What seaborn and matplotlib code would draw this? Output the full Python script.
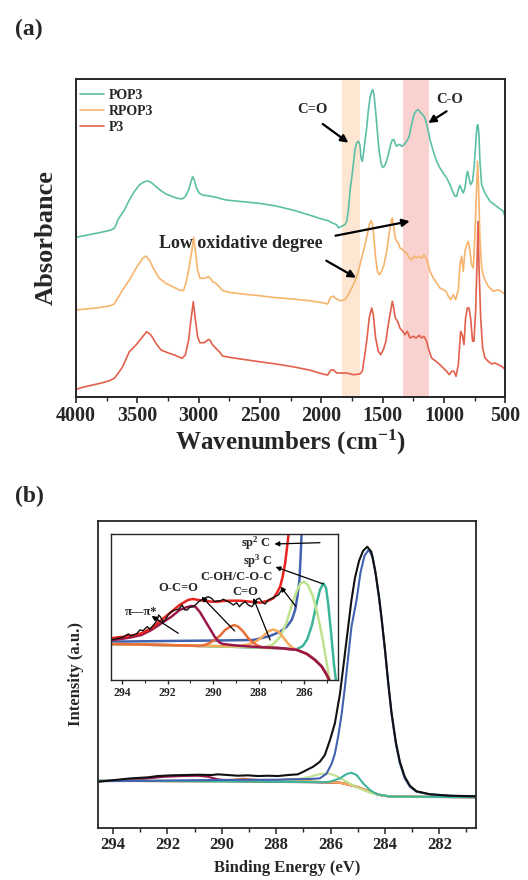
import matplotlib
matplotlib.use("Agg")
import matplotlib.pyplot as plt
import seaborn as sns
from matplotlib.ticker import MultipleLocator

sns.set_style("ticks")
plt.rcParams['font.family'] = ['Liberation Serif', 'DejaVu Serif']
plt.rcParams['font.weight'] = 'bold'
plt.rcParams['mathtext.fontset'] = 'custom'
plt.rcParams['mathtext.rm'] = 'Liberation Serif:bold'
plt.rcParams['mathtext.it'] = 'Liberation Serif:italic:bold'
plt.rcParams['mathtext.bf'] = 'Liberation Serif:bold'
plt.rcParams['axes.unicode_minus'] = False

# ---------------- (a) FTIR data ----------------
pop3_wn = [4000, 3998, 3946, 3864, 3783, 3715, 3688, 3674, 3660, 3633, 3606, 3565, 3525, 3484, 3443, 3416,
           3389, 3348, 3307, 3267, 3212, 3172, 3136, 3109, 3082, 3063, 3049, 3036, 3017, 2995, 2968, 2914,
           2859, 2778, 2642, 2506, 2370, 2235, 2099, 1990, 1936, 1930, 1876, 1860, 1835, 1808, 1794, 1781,
           1767, 1753, 1740, 1726, 1713, 1699, 1686, 1677, 1667, 1658, 1645, 1631, 1618, 1604, 1590, 1582,
           1571, 1558, 1544, 1531, 1514, 1501, 1487, 1474, 1455, 1436, 1422, 1409, 1395, 1387, 1373, 1360,
           1346, 1327, 1305, 1284, 1265, 1246, 1224, 1210, 1197, 1175, 1156, 1142, 1129, 1115, 1088, 1061,
           1034, 1007, 979, 952, 931, 911, 898, 884, 871, 857, 844, 830, 816, 808, 797, 784, 768, 754, 743,
           732, 724, 716, 708, 694, 667, 626, 572, 518, 500]
pop3_abs = [168.4, 159.4, 160.7, 162.7, 164.7, 166.7, 168.4, 171.7, 176.7, 181.7, 186.7, 196.7, 205.0, 211.7,
            215.0, 215.7, 214.4, 210.0, 206.0, 202.7, 200.0, 198.4, 197.7, 200.0, 206.7, 215.0, 220.0, 216.7,
            208.4, 203.4, 201.7, 200.7, 199.4, 196.7, 195.0, 193.4, 190.7, 186.7, 181.7, 177.4, 175.7, 174.7,
            172.0, 169.0, 170.4, 172.0, 175.4, 185.4, 205.4, 218.7, 232.0, 247.0, 253.7, 255.4, 252.0, 238.7,
            235.4, 242.0, 255.4, 268.7, 285.4, 298.7, 305.4, 307.0, 302.0, 285.4, 265.4, 247.0, 233.7, 229.4,
            230.4, 233.7, 242.0, 252.0, 257.0, 257.0, 252.0, 250.4, 252.0, 252.0, 250.4, 252.0, 255.4, 260.4,
            272.0, 282.0, 286.4, 287.0, 284.7, 282.0, 278.7, 272.0, 265.4, 257.0, 245.4, 235.4, 228.7, 223.7,
            218.7, 212.0, 205.4, 200.4, 200.4, 207.0, 211.4, 207.0, 203.7, 208.7, 222.0, 225.4, 218.7, 212.0,
            215.4, 232.0, 252.0, 270.4, 272.0, 262.0, 235.4, 212.0, 203.7, 195.4, 190.4, 185.4, 178.7]

rpop3_wn = [4000, 3998, 3946, 3837, 3728, 3688, 3660, 3620, 3565, 3511, 3457, 3430, 3402, 3362, 3321, 3267,
            3212, 3158, 3125, 3104, 3077, 3055, 3041, 3028, 3009, 2990, 2954, 2919, 2905, 2886, 2859, 2832,
            2805, 2751, 2642, 2506, 2370, 2235, 2099, 1990, 1949, 1925, 1900, 1889, 1849, 1808, 1781, 1753,
            1726, 1699, 1672, 1645, 1626, 1610, 1596, 1585, 1572, 1558, 1544, 1528, 1509, 1490, 1468, 1449,
            1433, 1422, 1411, 1398, 1387, 1373, 1360, 1346, 1327, 1305, 1284, 1265, 1246, 1224, 1202, 1183,
            1164, 1142, 1129, 1115, 1088, 1061, 1034, 1007, 985, 966, 947, 925, 906, 884, 871, 857, 844, 830,
            816, 803, 789, 776, 762, 749, 735, 727, 719, 708, 694, 675, 640, 599, 558, 518, 500]
rpop3_abs = [95.0, 86.7, 87.4, 88.7, 90.7, 92.7, 98.4, 106.7, 116.7, 128.4, 138.4, 140.7, 136.7, 126.7, 118.4,
             113.4, 110.0, 106.7, 106.0, 113.4, 130.0, 146.7, 159.4, 146.7, 126.7, 118.4, 118.4, 120.0, 118.4,
             115.0, 113.4, 110.0, 106.0, 104.4, 102.7, 101.0, 99.0, 97.7, 96.0, 94.0, 92.7, 99.5, 100.5, 98.7,
             96.0, 97.0, 102.0, 108.7, 115.4, 125.4, 138.7, 152.0, 162.0, 172.0, 176.0, 173.7, 158.7, 138.7,
             125.4, 122.0, 125.4, 132.0, 145.4, 162.0, 175.4, 178.7, 170.4, 158.7, 155.4, 153.7, 148.7, 148.0,
             145.4, 143.7, 138.7, 137.0, 140.4, 138.7, 140.4, 138.7, 142.0, 137.0, 132.0, 125.4, 118.7, 113.7,
             108.7, 107.0, 105.4, 100.4, 97.0, 102.0, 97.0, 107.0, 132.0, 140.4, 125.4, 145.4, 152.0, 155.4,
             145.4, 132.0, 128.7, 162.0, 208.7, 235.4, 208.7, 158.7, 128.7, 118.7, 110.4, 105.4, 107.0, 103.7,
             102.0]

p3_wn = [4000, 3998, 3946, 3864, 3783, 3728, 3688, 3660, 3620, 3565, 3511, 3457, 3424, 3389, 3348, 3307,
         3253, 3199, 3136, 3109, 3082, 3063, 3044, 3030, 3009, 2990, 2954, 2919, 2905, 2886, 2859, 2832, 2805,
         2751, 2642, 2506, 2370, 2235, 2099, 1990, 1949, 1922, 1903, 1876, 1835, 1794, 1740, 1686, 1667, 1650,
         1631, 1610, 1590, 1577, 1558, 1536, 1517, 1495, 1474, 1455, 1436, 1422, 1411, 1398, 1379, 1360, 1338,
         1319, 1300, 1278, 1251, 1229, 1202, 1183, 1164, 1142, 1129, 1102, 1066, 1034, 1007, 979, 958, 939,
         920, 903, 884, 865, 852, 838, 825, 811, 797, 784, 768, 757, 743, 732, 724, 716, 702, 686, 667, 640,
         613, 585, 558, 531, 500]
p3_abs = [18.4, 7.4, 9.4, 11.7, 14.0, 16.0, 18.4, 22.7, 30.0, 45.0, 51.7, 60.0, 65.0, 61.7, 53.4, 46.7, 44.0,
          41.7, 38.4, 41.7, 56.7, 76.7, 95.0, 80.0, 60.0, 54.0, 54.0, 57.4, 56.0, 51.7, 48.4, 45.0, 40.7, 39.4,
          37.4, 35.0, 32.7, 30.0, 26.7, 22.7, 21.7, 26.7, 27.0, 23.7, 23.7, 23.7, 22.0, 22.7, 25.4, 38.7, 55.4,
          78.7, 88.7, 82.0, 58.7, 45.4, 42.0, 47.0, 55.4, 72.0, 85.4, 95.4, 88.7, 78.7, 75.4, 68.7, 65.4, 62.0,
          65.4, 58.7, 60.4, 58.7, 61.4, 58.7, 60.4, 55.4, 48.7, 38.7, 35.4, 32.0, 28.7, 25.4, 22.0, 25.4, 25.4,
          20.4, 32.0, 65.4, 62.0, 52.0, 78.7, 88.7, 88.7, 78.7, 55.4, 55.4, 85.4, 132.0, 175.4, 132.0, 78.7,
          48.7, 38.7, 35.4, 32.7, 33.7, 32.0, 30.4, 27.0]

ftir_names = ["POP3", "RPOP3", "P3"]
ftir_colors = ["#5cbfa6", "#f6b46c", "#e2604c"]
band_co = (1686, 1828)
band_c_o = (1127, 1332)

# ---------------- (b) XPS main panel ----------------
m_black_be = [294.55, 293.94, 293.33, 292.71, 292.35, 291.85, 291.37, 290.87, 290.38, 290.14, 289.77, 289.40,
              289.04, 288.67, 288.30, 287.93, 287.57, 287.2, 287.0, 286.64, 286.39, 286.21, 286.02, 285.84,
              285.65, 285.53, 285.41, 285.29, 285.23, 285.1, 284.95, 284.8, 284.65, 284.5, 284.35, 284.21,
              284.12, 284.0, 283.88, 283.76, 283.6, 283.45, 283.27, 283.08, 282.84, 282.35, 281.6, 280.65]
m_black = [46, 47.7, 49.4, 50.4, 51.7, 52.4, 52.7, 53.0, 52.7, 53.4, 52.7, 52.0, 52.4, 51.7, 52.0, 51.7, 52.7,
           53.4, 56, 61, 66, 72.7, 87.7, 104.4, 134.4, 161, 187.7, 214.4, 227.7, 250, 267, 277, 281, 276, 256,
           230, 209, 179, 146, 116, 86, 66, 51, 42, 36.5, 33.5, 32, 31.5]

m_blue_be = [294.54, 292, 290, 288, 287.49, 286.76, 286.39, 286.15, 285.96, 285.84, 285.72, 285.59, 285.47,
             285.35, 285.23, 285.04, 284.9, 284.75, 284.6, 284.45, 284.33, 284.21, 284.12, 284.0, 283.88,
             283.76, 283.6, 283.45, 283.27, 283.08, 282.84, 282.35, 281.61, 280.65]
m_blue = [46.5, 47.2, 47.8, 48, 48.4, 48.7, 49.4, 54, 64, 74, 91, 114, 141, 171, 201, 228, 255, 272, 278, 271,
          252, 228, 208, 178, 144.4, 114.4, 84.4, 64.4, 49.4, 41.0, 36.0, 33.4, 32.0, 31.2]

m_base_be = [294.54, 292, 290, 288, 286.5, 285.65, 285.3, 285.04, 284.8, 284.55, 284.18, 283.82, 283.0, 280.65]
m_base = [47, 46.7, 46.5, 46, 45.7, 45, 43.5, 41, 38.5, 36, 32.7, 31.2, 30.8, 30.5]

m_green_be = [294.54, 290, 288, 287.5, 287.0, 286.76, 286.39, 286.08, 285.78, 285.41, 285.04, 284.55, 284.18,
              283.82, 280.65]
m_green = [47, 46.7, 46.5, 47.5, 49.5, 51, 53.7, 54.4, 51.7, 46, 40.4, 35, 32.7, 31.2, 30.5]

m_teal_be = [294.54, 288, 286.3, 286.02, 285.65, 285.41, 285.23, 285.04, 284.8, 284.55, 284.31, 283.82, 280.65]
m_teal = [47, 46, 45.5, 46, 49.4, 53.7, 55, 52.7, 44.4, 37.7, 33.7, 31.2, 30.5]

m_maroon_be = [294.54, 293.33, 292.71, 292.1, 291.49, 290.87, 290.51, 290.14, 289.65, 289.04, 288, 286.5,
               285.65, 285.04, 284.55, 284.18, 283.82, 280.65]
m_maroon = [46.5, 47.7, 49.4, 51, 51.7, 52, 51, 48.4, 46.7, 46, 45.8, 45.5, 45, 41, 36, 32.7, 31.2, 30.5]

m_ored_be = [294.54, 290.6, 289.9, 289.2, 288.6, 288.0, 286.5, 285.65, 285.04, 284.55, 284.18, 283.82, 280.65]
m_ored = [46.8, 46.5, 47.2, 49, 47.5, 46.2, 45.7, 45, 41, 36, 32.7, 31.2, 30.5]

m_orange_be = [294.54, 288.5, 288.0, 287.5, 287.0, 286.5, 285.65, 285.04, 284.55, 284.18, 283.82, 280.65]
m_orange = [46.8, 46.3, 47.3, 48.5, 47.5, 46, 45, 41, 36, 32.7, 31.2, 30.5]

# ---------------- (b) XPS inset (zoomed) ----------------
i_black_be = [294.5, 294.47, 294.18, 293.96, 293.81, 293.71, 293.62, 293.52, 293.37, 293.22, 293.08, 292.97,
              292.89, 292.78, 292.68, 292.56, 292.45, 292.39, 292.3, 292.2, 292.1, 291.98, 291.83, 291.68,
              291.51, 291.36, 291.24, 291.13, 291.03, 290.88, 290.73, 290.63, 290.51, 290.37, 290.22, 290.07,
              289.93, 289.78, 289.69, 289.55, 289.4, 289.25, 289.11, 288.96, 288.84, 288.74, 288.59, 288.45,
              288.30, 288.15, 288.08, 287.96, 287.82, 287.71, 287.57, 287.42, 287.27, 287.13, 287.03, 286.94]
i_black = [33, 40, 41.7, 42.7, 45, 46, 44, 45, 46, 50, 49.3, 51.7, 53.3, 50.7, 53.3, 56.7, 60, 65, 62.7, 58.3,
           60, 65, 68.3, 70, 70.7, 75, 70, 70, 72.7, 73.3, 76, 78.3, 80, 81.7, 83.3, 81.7, 78.3, 79.3, 79, 80.7,
           79, 77.3, 75, 77.3, 73.3, 76, 78.3, 75, 73.3, 77.3, 80.7, 81.7, 77.3, 76, 80, 81.7, 83.3, 85, 88.3,
           91.7]

i_red_be = [294.47, 294.18, 293.88, 293.44, 293.15, 292.71, 292.27, 291.83, 291.47, 291.10, 290.88, 290.66,
            290.37, 290.07, 289.78, 289.56, 289.25, 288.81, 288.37, 287.93, 287.57, 287.35, 287.2, 287.05,
            286.94, 286.83, 286.76, 286.69, 286.64]
i_red = [41.7, 42.7, 43.3, 45, 46.7, 51.7, 60, 68.3, 75, 80, 81, 80, 79.3, 78.3, 78.3, 79, 79.3, 79.3, 78.3,
         77.3, 79.3, 81.7, 86.7, 93.3, 103.3, 116.7, 130, 143.3, 156.7]

i_maroon_be = [294.47, 294.03, 293.59, 293.15, 292.71, 292.27, 291.83, 291.47, 291.17, 290.95, 290.78, 290.59,
               290.37, 290.15, 289.93, 289.71, 289.56, 289.0, 288.2, 287.05, 286.32, 285.88, 285.52, 285.22,
               285.0, 284.86, 284.8]
i_maroon = [40, 41, 42.7, 45, 50, 56.7, 63.3, 70, 72.7, 74, 73.3, 68.3, 60, 51.7, 43.3, 37.3, 36, 34.5, 33.2,
            31.9, 30.2, 26.2, 20.2, 13.5, 5.2, -1.5, -5]

i_base_be = [294.5, 293, 291, 289.7, 288.23, 287.05, 286.32, 285.88, 285.52, 285.22, 285.0, 284.86, 284.8]
i_base = [36, 35.3, 34.3, 33.5, 32.7, 31.7, 30, 26, 20, 13.3, 5, -2, -5]

i_blue_be = [294.47, 292, 289.69, 288.23, 287.49, 287.05, 286.76, 286.54, 286.39, 286.29, 286.2, 286.15,
             286.1, 286.06]
i_blue = [38.3, 39, 39.5, 40, 44, 48.3, 53.3, 60, 70, 83.3, 100, 123.3, 150, 170]

i_ored_be = [294.5, 292, 290.6, 290.37, 290.15, 289.93, 289.71, 289.47, 289.25, 289.08, 288.89, 288.67, 288.45,
             288.23, 288.01, 287.79, 287.05, 286.32, 285.88, 285.52, 285.22, 285.0, 284.86, 284.8]
i_ored = [36, 35, 34, 35, 37, 40, 44, 50, 53.3, 55, 53.3, 48.3, 41.7, 37, 34, 32.5, 31.8, 30.1, 26.1, 20.1,
          13.4, 5.1, -1.6, -5]

i_orange_be = [294.5, 289.5, 288.8, 288.37, 288.08, 287.79, 287.55, 287.35, 287.13, 286.91, 286.69, 286.47,
               286.25, 285.88, 285.52, 285.22, 285.0, 284.86, 284.8]
i_orange = [36, 33.8, 34, 36, 39, 44, 49, 50.5, 48.5, 42.5, 36, 31.5, 29.5, 26, 20, 13.3, 5, -2, -5]

i_green_be = [294.5, 290, 288.5, 287.8, 287.4, 287.05, 286.78, 286.56, 286.33, 286.15, 286.0, 285.83, 285.6,
              285.38, 285.2, 285.05, 284.9, 284.78]
i_green = [36, 33.8, 33, 32.5, 35, 43, 56.7, 73.3, 88.3, 96.7, 98.3, 95, 83.3, 63.3, 43.3, 23.3, 3.3, -6]

i_teal_be = [294.5, 290, 288, 287, 286.5, 286.3, 286.05, 285.85, 285.65, 285.45, 285.3, 285.15, 285.03, 284.93,
             284.8, 284.68, 284.58]
i_teal = [36, 33.8, 32.5, 31.8, 30.8, 31, 34, 41, 55, 76, 90, 96.7, 92, 75, 45, 15, -3]

xps_colors = {"black": "#111111", "blue": "#4262b0", "gray": "#8c8c8c", "green": "#bfe28f",
              "teal": "#3db59b", "maroon": "#99184c", "ored": "#ea6e3a", "orange": "#f6aa5a",
              "red": "#e8231d"}

# ---------------- figure ----------------
fig = plt.figure(figsize=(5.28, 8.8), dpi=100)
axA = fig.add_axes([0.1439, 0.5492, 0.8134, 0.3607])
axB = fig.add_axes([0.1862, 0.0594, 0.7153, 0.3485])
axI = fig.add_axes([0.2097, 0.2273, 0.4311, 0.1659])

# ----- panel (a) -----
axA.axvspan(*band_co, color="#fde7d2", lw=0, zorder=0)
axA.axvspan(*band_c_o, color="#f9d2d0", lw=0, zorder=0)
for wn, ab, nm, c in zip([pop3_wn, rpop3_wn, p3_wn], [pop3_abs, rpop3_abs, p3_abs], ftir_names, ftir_colors):
    sns.lineplot(x=wn, y=ab, ax=axA, color=c, lw=1.2, sort=False, estimator=None, label=nm)
axA.set_xlim(4000, 500)
axA.set_ylim(0, 317.4)
axA.xaxis.set_major_locator(MultipleLocator(500))
axA.xaxis.set_minor_locator(MultipleLocator(250))
axA.set_yticks([])
axA.tick_params(axis='x', which='major', direction='out', length=4, width=1.2, labelsize=14.5, pad=3)
axA.tick_params(axis='x', which='minor', direction='out', length=3, width=1.0)
for s in axA.spines.values():
    s.set_linewidth(1.4)
    s.set_visible(True)
for lbl in axA.get_xticklabels():
    lbl.set_fontweight('bold')
axA.set_xlabel("Wavenumbers (cm$^{-1}$)", fontsize=18, fontweight='bold', labelpad=1)
axA.set_ylabel("Absorbance", fontsize=19, fontweight='bold')
axA.yaxis.set_label_coords(-0.042, 0.5)
axA.legend(loc='upper left', bbox_to_anchor=(-0.004, 0.987), frameon=False, prop={'weight': 'bold', 'size': 10},
           handlelength=1.75, handletextpad=0.35, labelspacing=0.22, borderaxespad=0.3, borderpad=0.1)

arrow_kw = dict(arrowstyle='-|>', color='k', lw=1.6, mutation_scale=11, shrinkA=0, shrinkB=0)
axA.text(2069, 286.7, "C=O", ha='center', va='center', fontsize=10.5, fontweight='bold')
axA.annotate("", xy=(1780, 254), xytext=(1989, 272.7), arrowprops=arrow_kw)
axA.text(952, 297.4, "C-O", ha='center', va='center', fontsize=10.5, fontweight='bold')
axA.annotate("", xy=(1129, 273.7), xytext=(980, 285.4), arrowprops=arrow_kw)
axA.text(2656, 153.4, "Low oxidative degree", ha='center', va='center', fontsize=13, fontweight='bold')
axA.annotate("", xy=(1280, 175.5), xytext=(1885, 161), arrowprops=arrow_kw)
axA.annotate("", xy=(1718, 119), xytext=(1960, 136), arrowprops=arrow_kw)

# ----- panel (b) main -----
main_sets = [(m_base_be, m_base, "gray"), (m_maroon_be, m_maroon, "maroon"), (m_ored_be, m_ored, "ored"),
             (m_orange_be, m_orange, "orange"), (m_green_be, m_green, "green"), (m_teal_be, m_teal, "teal"),
             (m_blue_be, m_blue, "blue"), (m_black_be, m_black, "black")]
for be, val, key in main_sets:
    sns.lineplot(x=be, y=val, ax=axB, color=xps_colors[key], lw=1.5, sort=False, estimator=None)
axB.set_xlim(294.54, 280.65)
axB.set_ylim(0, 306.7)
axB.xaxis.set_major_locator(MultipleLocator(2))
axB.xaxis.set_minor_locator(MultipleLocator(1))
axB.set_yticks([])
axB.tick_params(axis='x', which='major', direction='out', length=4, width=1.1, labelsize=12, pad=3)
axB.tick_params(axis='x', which='minor', direction='out', length=3, width=1.0)
for s in axB.spines.values():
    s.set_linewidth(1.3)
    s.set_visible(True)
for lbl in axB.get_xticklabels():
    lbl.set_fontweight('bold')
axB.set_xlabel("Binding Energy (eV)", fontsize=12, fontweight='bold', labelpad=5)
axB.set_ylabel("Intensity (a.u.)", fontsize=12, fontweight='bold')
axB.yaxis.set_label_coords(-0.038, 0.5)

# ----- panel (b) inset -----
inset_sets = [(i_base_be, i_base, "gray"), (i_blue_be, i_blue, "blue"), (i_teal_be, i_teal, "teal"),
              (i_green_be, i_green, "green"), (i_orange_be, i_orange, "orange"), (i_ored_be, i_ored, "ored"),
              (i_maroon_be, i_maroon, "maroon"), (i_red_be, i_red, "red"), (i_black_be, i_black, "black")]
for be, val, key in inset_sets:
    lw = 1.0 if key == "black" else 1.8
    sns.lineplot(x=be, y=val, ax=axI, color=xps_colors[key], lw=lw, sort=False, estimator=None)
axI.set_xlim(294.5, 284.49)
axI.set_ylim(0, 146)
axI.xaxis.set_major_locator(MultipleLocator(2))
axI.xaxis.set_minor_locator(MultipleLocator(1))
axI.set_yticks([])
axI.set_xlabel("")
axI.set_ylabel("")
axI.tick_params(axis='x', which='major', direction='out', length=3, width=1.0, labelsize=8.5, pad=2)
axI.tick_params(axis='x', which='minor', direction='out', length=2, width=0.8)
for s in axI.spines.values():
    s.set_linewidth(1.0)
    s.set_visible(True)
for lbl in axI.get_xticklabels():
    lbl.set_fontweight('bold')

ia = dict(arrowstyle='-|>', color='k', lw=0.9, mutation_scale=7, shrinkA=0, shrinkB=0)
fs_i = 9
axI.text(288.12, 137, "sp$^2$ C", ha='center', va='center', fontsize=fs_i, fontweight='bold')
axI.annotate("", xy=(287.3, 136), xytext=(285.3, 137.3), arrowprops=ia)
axI.text(288.01, 118.3, "sp$^3$ C", ha='center', va='center', fontsize=fs_i, fontweight='bold')
axI.annotate("", xy=(287.25, 113), xytext=(285.15, 96), arrowprops=ia)
axI.text(288.96, 103.3, "C-OH/C-O-C", ha='center', va='center', fontsize=fs_i, fontweight='bold')
axI.annotate("", xy=(287.03, 93.3), xytext=(286.35, 73.3), arrowprops=ia)
axI.text(288.6, 88, "C=O", ha='center', va='center', fontsize=fs_i, fontweight='bold')
axI.annotate("", xy=(288.23, 82), xytext=(287.49, 40), arrowprops=ia)
axI.text(291.54, 91.7, "O-C=O", ha='center', va='center', fontsize=fs_i, fontweight='bold')
axI.annotate("", xy=(290.5, 83.3), xytext=(289.05, 49), arrowprops=ia)
axI.text(293.15, 68.3, "π—π*", ha='center', va='center', fontsize=fs_i, fontweight='bold')
axI.annotate("", xy=(292.7, 64), xytext=(291.53, 46.7), arrowprops=ia)

fig.text(15 / 528, 1 - 29 / 880, "(a)", fontsize=17, fontweight='bold', ha='left', va='center')
fig.text(15 / 528, 1 - 496 / 880, "(b)", fontsize=17, fontweight='bold', ha='left', va='center')

fig.savefig("out.png", dpi=100)
